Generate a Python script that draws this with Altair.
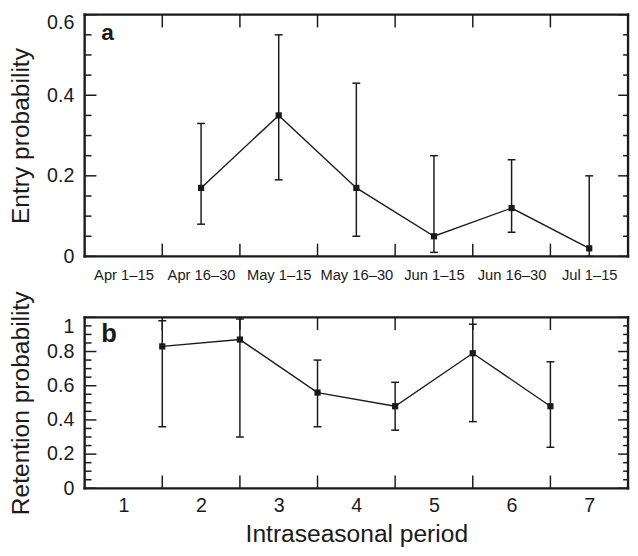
import json
import altair as alt
import pandas as pd

# ---------------- data ----------------
periods_a = ["Apr 1–15", "Apr 16–30", "May 1–15", "May 16–30", "Jun 1–15", "Jun 16–30", "Jul 1–15"]
entry_period = ["Apr 16–30", "May 1–15", "May 16–30", "Jun 1–15", "Jun 16–30", "Jul 1–15"]
entry_prob = [0.17, 0.35, 0.17, 0.05, 0.12, 0.02]
entry_low = [0.08, 0.19, 0.05, 0.01, 0.06, 0.0]
entry_high = [0.33, 0.55, 0.43, 0.25, 0.24, 0.20]

ret_period = [1.5, 2.5, 3.5, 4.5, 5.5, 6.5]
ret_prob = [0.83, 0.87, 0.56, 0.48, 0.79, 0.48]
ret_low = [0.36, 0.30, 0.36, 0.34, 0.39, 0.24]
ret_high = [0.98, 0.99, 0.75, 0.62, 0.96, 0.74]

period_ticks_b = [1, 2, 3, 4, 5, 6, 7]
boundary_ticks = [1.5, 2.5, 3.5, 4.5, 5.5, 6.5]
x_domain = [0.5, 7.5]
a_domain = [0, 0.6]
b_domain = [0, 1]
a_major = [0, 0.2, 0.4, 0.6]
a_minor = [0.05, 0.1, 0.15, 0.25, 0.3, 0.35, 0.45, 0.5, 0.55]
b_major = [0, 0.2, 0.4, 0.6, 0.8, 1.0]
b_minor = [0.05, 0.1, 0.15, 0.25, 0.3, 0.35, 0.45, 0.5, 0.55,
           0.65, 0.7, 0.75, 0.85, 0.9, 0.95]
panel_labels = ["a", "b"]

# ---------------- layout ----------------
W = 553
HA = 246
HB = 174
INK = "#1a1a1a"
FONT = "Liberation Sans"

df_a = pd.DataFrame({
    "x": [periods_a.index(p) + 1 for p in entry_period],
    "y": entry_prob, "low": entry_low, "high": entry_high,
})
df_b = pd.DataFrame({"x": ret_period, "y": ret_prob, "low": ret_low, "high": ret_high})

label_expr_a = json.dumps(periods_a) + "[datum.value - 1]"


def panel(df, ydomain, ymajor, yminor, H, xaxis, ytitle, top_val, top_off, label, lab_x, lab_y, lab_size):
    xs = alt.Scale(domain=x_domain, nice=False, zero=False)
    ys = alt.Scale(domain=ydomain, nice=False, zero=False)
    yaxis = alt.Axis(
        values=ymajor, format="~g", ticks=False, tickSize=0, domain=False, grid=False,
        labelPadding=11, labelFontSize=20,
        labelBaseline={"condition": {"test": f"datum.value == {top_val}", "value": "top"}, "value": "middle"},
        labelOffset={"condition": {"test": f"datum.value == {top_val}", "value": top_off}, "value": 0},
        title=ytitle, titleFontSize=25, titleX=-52, titleFontWeight="normal",
    )
    X = alt.X("x:Q", scale=xs, axis=xaxis, title=None)
    Y = alt.Y("y:Q", scale=ys, axis=yaxis, title=ytitle)
    base = alt.Chart(df)
    err = base.mark_rule(color=INK, strokeWidth=1.5).encode(
        x=X, y=alt.Y("low:Q", scale=ys, axis=yaxis, title=ytitle), y2="high:Q")
    cap_lo = base.mark_tick(orient="horizontal", size=8, thickness=1.5, color=INK, opacity=1).encode(
        x=X, y=alt.Y("low:Q", scale=ys, axis=yaxis, title=ytitle))
    cap_hi = base.mark_tick(orient="horizontal", size=8, thickness=1.5, color=INK, opacity=1).encode(
        x=X, y=alt.Y("high:Q", scale=ys, axis=yaxis, title=ytitle))
    line = base.mark_line(color=INK, strokeWidth=1.4).encode(x=X, y=Y)
    pts = base.mark_square(color=INK, size=40, opacity=1).encode(x=X, y=Y)

    maj = alt.Chart(pd.DataFrame({"y": ymajor}))
    mnr = alt.Chart(pd.DataFrame({"y": yminor}))
    Yt = alt.Y("y:Q", scale=ys, axis=yaxis, title=ytitle)
    lmaj = maj.mark_rule(color=INK, strokeWidth=1.5).encode(x=alt.value(0), x2=alt.value(12), y=Yt)
    lmin = mnr.mark_rule(color=INK, strokeWidth=1.5).encode(x=alt.value(0), x2=alt.value(7), y=Yt)
    rmaj = maj.mark_rule(color=INK, strokeWidth=1.5).encode(x=alt.value(W - 10), x2=alt.value(W), y=Yt)
    rmin = mnr.mark_rule(color=INK, strokeWidth=1.5).encode(x=alt.value(W - 5), x2=alt.value(W), y=Yt)

    bt = alt.Chart(pd.DataFrame({"x": boundary_ticks}))
    ttop = bt.mark_rule(color=INK, strokeWidth=1.5).encode(x=X, y=alt.value(0), y2=alt.value(13))
    tbot = bt.mark_rule(color=INK, strokeWidth=1.5).encode(x=X, y=alt.value(H), y2=alt.value(H - 13))

    # plot frame: horizontal edges at the y-domain ends, vertical edges at the x-domain ends
    lo, hi = ydomain
    x0, x1 = x_domain
    hedge = alt.Chart(pd.DataFrame({"y": [lo, hi]})).mark_rule(
        color=INK, strokeWidth=2.4, strokeCap="square").encode(x=alt.value(0), x2=alt.value(W), y=Yt)
    vedge = alt.Chart(pd.DataFrame({"x": [x0, x1]})).mark_rule(
        color=INK, strokeWidth=2.4, strokeCap="square").encode(x=X, y=alt.value(0), y2=alt.value(H))

    txt = alt.Chart(pd.DataFrame({"t": [label]})).mark_text(
        font=FONT, fontSize=lab_size, fontWeight="bold", align="left", baseline="alphabetic", color=INK
    ).encode(x=alt.value(lab_x), y=alt.value(lab_y), text="t:N")

    return alt.layer(lmaj, lmin, rmaj, rmin, ttop, tbot, hedge, vedge,
                     err, cap_lo, cap_hi, line, pts, txt).properties(width=W, height=H)


xaxis_a = alt.Axis(values=list(range(1, 8)), labelExpr=label_expr_a, ticks=False, tickSize=0,
                   domain=False, grid=False, labelPadding=12, labelFontSize=15, title=None)
xaxis_b = alt.Axis(values=period_ticks_b, format="d", ticks=False, tickSize=0, domain=False,
                   grid=False, labelPadding=8, labelFontSize=20,
                   title="Intraseasonal period", titleFontSize=25, titleFontWeight="normal",
                   titleBaseline="alphabetic", titleY=54)

pa = panel(df_a, a_domain, a_major, a_minor, HA, xaxis_a, "Entry probability", 0.6, -2,
           panel_labels[0], 17, 26, 23)
pb = panel(df_b, b_domain, b_major, b_minor, HB, xaxis_b, "Retention probability", 1, -1,
           panel_labels[1], 17, 25, 26)

chart = alt.vconcat(pa, pb, spacing=62, bounds="flush").properties(
    padding={"left": 0, "top": 0, "right": 0, "bottom": 0},
    background="white",
).configure_view(stroke=None).configure_axis(
    labelFont=FONT, titleFont=FONT, labelColor=INK, titleColor=INK
)

chart.save("out.html", embed_options={"renderer": "svg", "actions": False})
